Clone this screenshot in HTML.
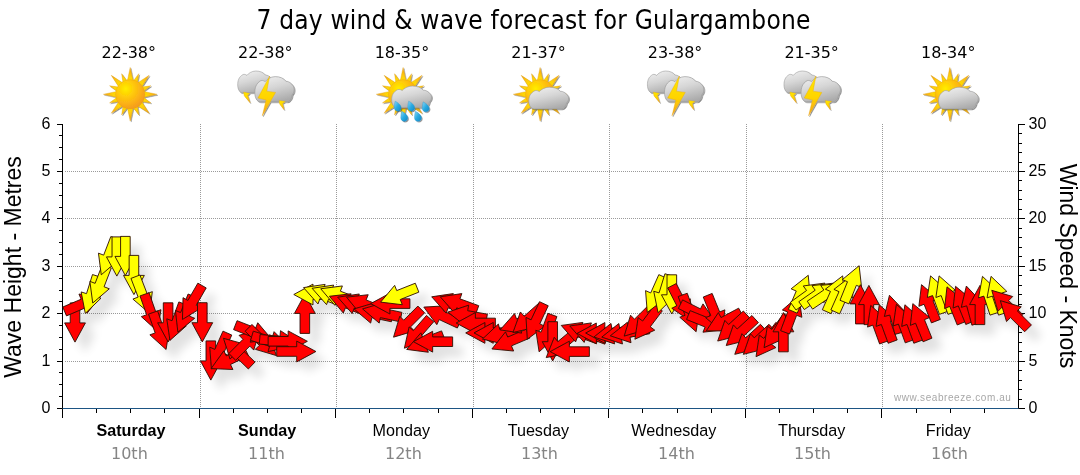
<!DOCTYPE html>
<html><head><meta charset="utf-8"><title>7 day wind &amp; wave forecast for Gulargambone</title>
<style>
html,body{margin:0;padding:0;background:#fff}
#c{position:relative;width:1080px;height:475px;overflow:hidden;background:#fff;font-family:"Liberation Sans",sans-serif;color:#000}
#c div{position:absolute;white-space:nowrap;line-height:1}
.title{left:0;width:1080px;top:7.2px;text-align:center;font:26px "DejaVu Sans",sans-serif;letter-spacing:.22px;text-indent:-14.4px;transform:scaleX(.9);transform-origin:540px 50%}
.tmp{width:120px;text-align:center;top:45px;font:16px "DejaVu Sans",sans-serif}
.day{width:136px;text-align:center;top:422.1px;font-size:16.15px}
.day.b{font-weight:bold}
.dt{width:136px;text-align:center;top:445.6px;font:16px "DejaVu Sans",sans-serif;color:#858585}
.yl{width:40px;text-align:right;font-size:16px;left:10.5px}
.yr{font-size:16px;left:1028.5px}
.axl{font-size:23px;left:13px;top:266.5px;transform:translate(-50%,-50%) rotate(-90deg)}
.axr{font-size:23px;left:1067px;top:266px;transform:translate(-50%,-50%) rotate(90deg)}
.wm{font-size:10px;color:#a8a8a8;right:68.5px;top:392.8px;letter-spacing:.57px}
</style></head><body><div id="c">
<svg width="1080" height="475" viewBox="0 0 1080 475" style="position:absolute;left:0;top:0">
<defs>
<filter id="sh" x="-5%" y="-20%" width="110%" height="150%"><feGaussianBlur in="SourceAlpha" stdDeviation="5"/><feOffset dx="10" dy="10"/><feComponentTransfer><feFuncA type="linear" slope="0.12"/></feComponentTransfer><feMerge><feMergeNode/><feMergeNode in="SourceGraphic"/></feMerge></filter>
</defs>

<g stroke="#9a9a9a" stroke-width="1" stroke-dasharray="1 1" shape-rendering="crispEdges" fill="none"><line x1="65" y1="361.5" x2="1018.5" y2="361.5"/><line x1="65" y1="313.5" x2="1018.5" y2="313.5"/><line x1="65" y1="266.5" x2="1018.5" y2="266.5"/><line x1="65" y1="218.5" x2="1018.5" y2="218.5"/><line x1="65" y1="171.5" x2="1018.5" y2="171.5"/><line x1="200.5" y1="124" x2="200.5" y2="408.5"/><line x1="336.5" y1="124" x2="336.5" y2="408.5"/><line x1="473.5" y1="124" x2="473.5" y2="408.5"/><line x1="609.5" y1="124" x2="609.5" y2="408.5"/><line x1="746.5" y1="124" x2="746.5" y2="408.5"/><line x1="882.5" y1="124" x2="882.5" y2="408.5"/></g>
<g stroke="#000" stroke-width="1" fill="none" shape-rendering="crispEdges"><line x1="62.5" y1="123.6" x2="62.5" y2="417.5"/><line x1="56.5" y1="408.5" x2="62.5" y2="408.5"/><line x1="59" y1="396.65" x2="62.5" y2="396.65"/><line x1="59" y1="384.8" x2="62.5" y2="384.8"/><line x1="59" y1="372.95" x2="62.5" y2="372.95"/><line x1="56.5" y1="361.1" x2="62.5" y2="361.1"/><line x1="59" y1="349.25" x2="62.5" y2="349.25"/><line x1="59" y1="337.4" x2="62.5" y2="337.4"/><line x1="59" y1="325.55" x2="62.5" y2="325.55"/><line x1="56.5" y1="313.7" x2="62.5" y2="313.7"/><line x1="59" y1="301.85" x2="62.5" y2="301.85"/><line x1="59" y1="290" x2="62.5" y2="290"/><line x1="59" y1="278.15" x2="62.5" y2="278.15"/><line x1="56.5" y1="266.3" x2="62.5" y2="266.3"/><line x1="59" y1="254.45" x2="62.5" y2="254.45"/><line x1="59" y1="242.6" x2="62.5" y2="242.6"/><line x1="59" y1="230.75" x2="62.5" y2="230.75"/><line x1="56.5" y1="218.9" x2="62.5" y2="218.9"/><line x1="59" y1="207.05" x2="62.5" y2="207.05"/><line x1="59" y1="195.2" x2="62.5" y2="195.2"/><line x1="59" y1="183.35" x2="62.5" y2="183.35"/><line x1="56.5" y1="171.5" x2="62.5" y2="171.5"/><line x1="59" y1="159.65" x2="62.5" y2="159.65"/><line x1="59" y1="147.8" x2="62.5" y2="147.8"/><line x1="59" y1="135.95" x2="62.5" y2="135.95"/><line x1="56.5" y1="124.1" x2="62.5" y2="124.1"/><line x1="1018.5" y1="123.6" x2="1018.5" y2="409"/><line x1="1018.5" y1="408.5" x2="1024.5" y2="408.5"/><line x1="1018.5" y1="399.02" x2="1022" y2="399.02"/><line x1="1018.5" y1="389.54" x2="1022" y2="389.54"/><line x1="1018.5" y1="380.06" x2="1022" y2="380.06"/><line x1="1018.5" y1="370.58" x2="1022" y2="370.58"/><line x1="1018.5" y1="361.1" x2="1024.5" y2="361.1"/><line x1="1018.5" y1="351.62" x2="1022" y2="351.62"/><line x1="1018.5" y1="342.14" x2="1022" y2="342.14"/><line x1="1018.5" y1="332.66" x2="1022" y2="332.66"/><line x1="1018.5" y1="323.18" x2="1022" y2="323.18"/><line x1="1018.5" y1="313.7" x2="1024.5" y2="313.7"/><line x1="1018.5" y1="304.22" x2="1022" y2="304.22"/><line x1="1018.5" y1="294.74" x2="1022" y2="294.74"/><line x1="1018.5" y1="285.26" x2="1022" y2="285.26"/><line x1="1018.5" y1="275.78" x2="1022" y2="275.78"/><line x1="1018.5" y1="266.3" x2="1024.5" y2="266.3"/><line x1="1018.5" y1="256.82" x2="1022" y2="256.82"/><line x1="1018.5" y1="247.34" x2="1022" y2="247.34"/><line x1="1018.5" y1="237.86" x2="1022" y2="237.86"/><line x1="1018.5" y1="228.38" x2="1022" y2="228.38"/><line x1="1018.5" y1="218.9" x2="1024.5" y2="218.9"/><line x1="1018.5" y1="209.42" x2="1022" y2="209.42"/><line x1="1018.5" y1="199.94" x2="1022" y2="199.94"/><line x1="1018.5" y1="190.46" x2="1022" y2="190.46"/><line x1="1018.5" y1="180.98" x2="1022" y2="180.98"/><line x1="1018.5" y1="171.5" x2="1024.5" y2="171.5"/><line x1="1018.5" y1="162.02" x2="1022" y2="162.02"/><line x1="1018.5" y1="152.54" x2="1022" y2="152.54"/><line x1="1018.5" y1="143.06" x2="1022" y2="143.06"/><line x1="1018.5" y1="133.58" x2="1022" y2="133.58"/><line x1="1018.5" y1="124.1" x2="1024.5" y2="124.1"/><line x1="96.5" y1="408.5" x2="96.5" y2="413"/><line x1="130.5" y1="408.5" x2="130.5" y2="413"/><line x1="164.5" y1="408.5" x2="164.5" y2="413"/><line x1="199.5" y1="408.5" x2="199.5" y2="417.5"/><line x1="233.5" y1="408.5" x2="233.5" y2="413"/><line x1="267.5" y1="408.5" x2="267.5" y2="413"/><line x1="301.5" y1="408.5" x2="301.5" y2="413"/><line x1="335.5" y1="408.5" x2="335.5" y2="417.5"/><line x1="369.5" y1="408.5" x2="369.5" y2="413"/><line x1="403.5" y1="408.5" x2="403.5" y2="413"/><line x1="438.5" y1="408.5" x2="438.5" y2="413"/><line x1="472.5" y1="408.5" x2="472.5" y2="417.5"/><line x1="506.5" y1="408.5" x2="506.5" y2="413"/><line x1="540.5" y1="408.5" x2="540.5" y2="413"/><line x1="574.5" y1="408.5" x2="574.5" y2="413"/><line x1="608.5" y1="408.5" x2="608.5" y2="417.5"/><line x1="642.5" y1="408.5" x2="642.5" y2="413"/><line x1="677.5" y1="408.5" x2="677.5" y2="413"/><line x1="711.5" y1="408.5" x2="711.5" y2="413"/><line x1="745.5" y1="408.5" x2="745.5" y2="417.5"/><line x1="779.5" y1="408.5" x2="779.5" y2="413"/><line x1="813.5" y1="408.5" x2="813.5" y2="413"/><line x1="847.5" y1="408.5" x2="847.5" y2="413"/><line x1="881.5" y1="408.5" x2="881.5" y2="417.5"/><line x1="916.5" y1="408.5" x2="916.5" y2="413"/><line x1="950.5" y1="408.5" x2="950.5" y2="413"/><line x1="984.5" y1="408.5" x2="984.5" y2="413"/></g>
<line x1="62.5" y1="408.5" x2="1018.5" y2="408.5" stroke="#1d5584" stroke-width="1.2"/>
<g filter="url(#sh)" stroke="#2a0c00" stroke-width="0.9" stroke-linejoin="miter"><path d="M79.81 302.9 L79.81 322.9 L85.41 322.9 L75.01 342.1 L64.61 322.9 L70.21 322.9 L70.21 302.9Z" fill="#ff0000"/>
<path d="M62.73 307.04 L81.14 299.23 L78.96 294.07 L100.69 296.14 L87.08 313.22 L84.9 308.06 L66.49 315.88Z" fill="#ff0000"/>
<path d="M101.67 277.45 L95.66 296.52 L101 298.21 L85.3 313.39 L81.16 291.95 L86.5 293.64 L92.51 274.56Z" fill="#ffff00"/>
<path d="M111.25 268.12 L104.08 286.79 L109.31 288.8 L92.72 303 L89.89 281.35 L95.12 283.35 L102.29 264.68Z" fill="#ffff00"/>
<path d="M119.8 239.92 L112.63 258.59 L117.86 260.6 L101.27 274.8 L98.44 253.15 L103.67 255.15 L110.83 236.48Z" fill="#ffff00"/>
<path d="M121.64 236.9 L121.64 256.9 L127.24 256.9 L116.84 276.1 L106.44 256.9 L112.04 256.9 L112.04 236.9Z" fill="#ffff00"/>
<path d="M130.18 236.4 L130.18 256.4 L135.78 256.4 L125.38 275.6 L114.98 256.4 L120.58 256.4 L120.58 236.4Z" fill="#ffff00"/>
<path d="M138.73 255.4 L138.73 275.4 L144.33 275.4 L133.93 294.6 L123.53 275.4 L129.13 275.4 L129.13 255.4Z" fill="#ffff00"/>
<path d="M139.93 274.98 L147.1 293.65 L152.33 291.65 L149.5 313.3 L132.91 299.1 L138.14 297.09 L130.97 278.42Z" fill="#ffff00"/>
<path d="M149.04 292.72 L155.68 311.58 L160.96 309.72 L157.53 331.29 L141.34 316.63 L146.63 314.77 L139.98 295.91Z" fill="#ff0000"/>
<path d="M157.58 310.92 L164.23 329.78 L169.51 327.92 L166.08 349.49 L149.89 334.83 L155.17 332.97 L148.53 314.11Z" fill="#ff0000"/>
<path d="M172.91 302.8 L172.91 322.8 L178.51 322.8 L168.11 342 L157.71 322.8 L163.31 322.8 L163.31 302.8Z" fill="#ff0000"/>
<path d="M187.87 305.22 L181.03 324.02 L186.29 325.93 L169.95 340.42 L166.75 318.82 L172.01 320.73 L178.85 301.94Z" fill="#ff0000"/>
<path d="M197 297.63 L189.5 316.17 L194.7 318.27 L177.86 332.17 L175.41 310.47 L180.6 312.57 L188.1 294.03Z" fill="#ff0000"/>
<path d="M206.21 287.93 L196.21 305.25 L201.06 308.05 L182.45 319.47 L183.04 297.65 L187.89 300.45 L197.89 283.13Z" fill="#ff0000"/>
<path d="M207.1 302.7 L207.1 322.7 L212.7 322.7 L202.3 341.9 L191.9 322.7 L197.5 322.7 L197.5 302.7Z" fill="#ff0000"/>
<path d="M215.64 340.9 L215.64 360.9 L221.24 360.9 L210.84 380.1 L200.44 360.9 L206.04 360.9 L206.04 340.9Z" fill="#ff0000"/>
<path d="M231.75 335.05 L223.61 353.32 L228.73 355.6 L211.42 368.91 L209.72 347.14 L214.84 349.41 L222.98 331.14Z" fill="#ff0000"/>
<path d="M248.45 355.72 L230.48 364.49 L232.93 369.52 L211.12 368.59 L223.82 350.83 L226.27 355.86 L244.25 347.09Z" fill="#ff0000"/>
<path d="M248.34 368.97 L233.96 355.07 L230.07 359.1 L223.48 338.28 L244.52 344.14 L240.63 348.17 L255.01 362.06Z" fill="#ff0000"/>
<path d="M228.87 353.47 L243.01 339.32 L239.05 335.36 L259.99 329.14 L253.76 350.07 L249.8 346.11 L235.66 360.25Z" fill="#ff0000"/>
<path d="M237.07 320.68 L255.7 327.98 L257.74 322.76 L271.82 339.45 L250.15 342.13 L252.19 336.92 L233.57 329.62Z" fill="#ff0000"/>
<path d="M251.95 324.45 L266.09 338.59 L270.05 334.63 L276.28 355.56 L255.35 349.34 L259.31 345.38 L245.16 331.23Z" fill="#ff0000"/>
<path d="M253.32 331.18 L272.45 337.03 L274.09 331.67 L289.41 347.23 L268.01 351.56 L269.64 346.21 L250.52 340.36Z" fill="#ff0000"/>
<path d="M260.1 334.51 L280.03 336.25 L280.51 330.67 L298.74 342.71 L278.7 351.4 L279.19 345.82 L259.27 344.07Z" fill="#ff0000"/>
<path d="M268.16 336.5 L288.16 336.5 L288.16 330.9 L307.36 341.3 L288.16 351.7 L288.16 346.1 L268.16 346.1Z" fill="#ff0000"/>
<path d="M276.7 346.7 L296.7 346.7 L296.7 341.1 L315.9 351.5 L296.7 361.9 L296.7 356.3 L276.7 356.3Z" fill="#ff0000"/>
<path d="M300.05 333.4 L300.05 313.4 L294.45 313.4 L304.85 294.2 L315.25 313.4 L309.65 313.4 L309.65 333.4Z" fill="#ff0000"/>
<path d="M332.99 299.3 L312.99 299.3 L312.99 304.9 L293.79 294.5 L312.99 284.1 L312.99 289.7 L332.99 289.7Z" fill="#ffff00"/>
<path d="M338.72 305.51 L319.92 298.67 L318.01 303.94 L303.52 287.6 L325.12 284.39 L323.21 289.65 L342 296.49Z" fill="#ffff00"/>
<path d="M347.26 306.21 L328.47 299.37 L326.55 304.64 L312.07 288.3 L333.67 285.09 L331.75 290.35 L350.55 297.19Z" fill="#ffff00"/>
<path d="M355.61 307.31 L336.94 300.14 L334.93 305.37 L320.73 288.78 L342.39 285.95 L340.38 291.18 L359.05 298.34Z" fill="#ffff00"/>
<path d="M363.95 315.39 L345.41 307.9 L343.31 313.09 L329.41 296.26 L351.1 293.81 L349.01 299 L367.55 306.49Z" fill="#ff0000"/>
<path d="M372.9 315.11 L354.11 308.27 L352.19 313.54 L337.71 297.2 L359.31 293.99 L357.39 299.25 L376.18 306.09Z" fill="#ff0000"/>
<path d="M381.04 316.29 L362.5 308.8 L360.4 313.99 L346.5 297.16 L368.2 294.71 L366.1 299.9 L384.64 307.39Z" fill="#ff0000"/>
<path d="M391.39 321.77 L371.83 317.61 L370.66 323.09 L354.04 308.92 L374.99 302.74 L373.82 308.22 L393.39 312.38Z" fill="#ff0000"/>
<path d="M399.94 321.77 L380.37 317.61 L379.21 323.09 L362.59 308.92 L383.53 302.74 L382.37 308.22 L401.93 312.38Z" fill="#ff0000"/>
<path d="M409.91 308.4 L389.91 308.4 L389.91 314 L370.71 303.6 L389.91 293.2 L389.91 298.8 L409.91 298.8Z" fill="#ff0000"/>
<path d="M418.84 292.15 L400.25 299.51 L402.31 304.72 L380.63 302.12 L394.65 285.38 L396.72 290.58 L415.31 283.22Z" fill="#ffff00"/>
<path d="M424.65 312.83 L410.51 326.98 L414.47 330.94 L393.54 337.16 L399.76 316.23 L403.72 320.19 L417.87 306.05Z" fill="#ff0000"/>
<path d="M433.73 321.76 L420.61 336.85 L424.83 340.52 L404.39 348.19 L409.13 326.88 L413.36 330.55 L426.48 315.46Z" fill="#ff0000"/>
<path d="M445.01 339.86 L426.34 347.02 L428.35 352.25 L406.69 349.42 L420.89 332.83 L422.9 338.06 L441.57 330.89Z" fill="#ff0000"/>
<path d="M452.64 346.5 L432.64 346.5 L432.64 352.1 L413.44 341.7 L432.64 331.3 L432.64 336.9 L452.64 336.9Z" fill="#ff0000"/>
<path d="M457.32 328.03 L439.19 319.58 L436.83 324.66 L423.82 307.12 L445.62 305.81 L443.25 310.88 L461.38 319.33Z" fill="#ff0000"/>
<path d="M466.91 314.71 L448.11 307.87 L446.2 313.14 L431.71 296.8 L453.31 293.59 L451.4 298.85 L470.19 305.69Z" fill="#ff0000"/>
<path d="M475.45 314.71 L456.66 307.87 L454.74 313.14 L440.26 296.8 L461.86 293.59 L459.94 298.85 L478.74 305.69Z" fill="#ff0000"/>
<path d="M485.69 323.63 L465.99 320.16 L465.02 325.67 L447.92 312.1 L468.63 305.19 L467.66 310.7 L487.36 314.18Z" fill="#ff0000"/>
<path d="M495.37 327.8 L475.37 327.8 L475.37 333.4 L456.17 323 L475.37 312.6 L475.37 318.2 L495.37 318.2Z" fill="#ff0000"/>
<path d="M504.91 337.7 L484.91 337.7 L484.91 343.3 L465.71 332.9 L484.91 322.5 L484.91 328.1 L504.91 328.1Z" fill="#ff0000"/>
<path d="M513.26 337.7 L493.26 337.7 L493.26 343.3 L474.06 332.9 L493.26 322.5 L493.26 328.1 L513.26 328.1Z" fill="#ff0000"/>
<path d="M521.58 333.56 L502.26 338.74 L503.71 344.15 L482.47 339.07 L498.33 324.06 L499.78 329.47 L519.1 324.29Z" fill="#ff0000"/>
<path d="M529.87 338.06 L511.46 345.87 L513.65 351.03 L491.91 348.96 L505.52 331.88 L507.71 337.04 L526.12 329.22Z" fill="#ff0000"/>
<path d="M538.56 321.01 L519.76 327.85 L521.68 333.11 L500.08 329.9 L514.57 313.56 L516.48 318.83 L535.27 311.99Z" fill="#ff0000"/>
<path d="M545.5 310.11 L530.52 323.36 L534.24 327.55 L512.96 332.49 L520.45 311.98 L524.16 316.17 L539.14 302.92Z" fill="#ff0000"/>
<path d="M548.22 305.76 L539.77 323.89 L544.85 326.26 L527.31 339.26 L526 317.47 L531.07 319.83 L539.52 301.71Z" fill="#ff0000"/>
<path d="M556.89 316.58 L550.12 335.4 L555.39 337.3 L539.1 351.84 L535.82 330.25 L541.08 332.15 L547.86 313.33Z" fill="#ff0000"/>
<path d="M557.48 321.7 L557.48 341.7 L563.08 341.7 L552.68 360.9 L542.28 341.7 L547.88 341.7 L547.88 321.7Z" fill="#ff0000"/>
<path d="M579.33 336.08 L564.01 348.93 L567.61 353.22 L546.21 357.6 L554.24 337.29 L557.84 341.58 L573.16 328.72Z" fill="#ff0000"/>
<path d="M589.37 356.4 L569.37 356.4 L569.37 362 L550.17 351.6 L569.37 341.2 L569.37 346.8 L589.37 346.8Z" fill="#ff0000"/>
<path d="M596.3 343.66 L577.56 336.66 L575.6 341.9 L561.26 325.44 L582.89 322.42 L580.93 327.66 L599.66 334.67Z" fill="#ff0000"/>
<path d="M604.84 344.16 L586.11 337.16 L584.15 342.4 L569.81 325.94 L591.43 322.92 L589.47 328.16 L608.21 335.17Z" fill="#ff0000"/>
<path d="M616.31 338.2 L596.31 338.2 L596.31 343.8 L577.11 333.4 L596.31 323 L596.31 328.6 L616.31 328.6Z" fill="#ff0000"/>
<path d="M624.86 337.8 L604.86 337.8 L604.86 343.4 L585.66 333 L604.86 322.6 L604.86 328.2 L624.86 328.2Z" fill="#ff0000"/>
<path d="M633.34 334.92 L613.64 338.4 L614.62 343.91 L593.9 337 L611 323.43 L611.98 328.94 L631.67 325.47Z" fill="#ff0000"/>
<path d="M641.19 335.02 L621.49 338.5 L622.46 344.01 L601.75 337.1 L618.85 323.53 L619.82 329.04 L639.52 325.57Z" fill="#ff0000"/>
<path d="M649.73 333.72 L630.04 337.2 L631.01 342.71 L610.29 335.8 L627.4 322.23 L628.37 327.74 L648.06 324.27Z" fill="#ff0000"/>
<path d="M655.45 311.93 L641.23 325.99 L645.17 329.97 L624.21 336.09 L630.54 315.19 L634.48 319.17 L648.7 305.1Z" fill="#ff0000"/>
<path d="M662.32 310.84 L650.28 326.81 L654.75 330.18 L634.89 339.25 L638.14 317.66 L642.61 321.03 L654.65 305.06Z" fill="#ff0000"/>
<path d="M667.59 278.55 L659.46 296.82 L664.57 299.1 L647.26 312.41 L645.57 290.64 L650.69 292.91 L658.82 274.64Z" fill="#ffff00"/>
<path d="M674.1 276.56 L668.25 295.69 L673.61 297.32 L658.05 312.64 L653.72 291.24 L659.07 292.88 L664.92 273.75Z" fill="#ffff00"/>
<path d="M676.63 274.8 L676.63 294.8 L682.23 294.8 L671.83 314 L661.43 294.8 L667.03 294.8 L667.03 274.8Z" fill="#ffff00"/>
<path d="M676.25 283.56 L685.33 301.38 L690.32 298.83 L689.77 320.66 L671.79 308.28 L676.78 305.74 L667.7 287.92Z" fill="#ff0000"/>
<path d="M687.22 293.24 L694.07 312.03 L699.33 310.12 L696.12 331.72 L679.78 317.23 L685.04 315.32 L678.2 296.52Z" fill="#ff0000"/>
<path d="M682.61 299.91 L700.48 308.89 L702.99 303.89 L715.47 321.81 L693.65 322.47 L696.16 317.47 L678.3 308.48Z" fill="#ff0000"/>
<path d="M690.14 310.61 L708.68 318.1 L710.78 312.91 L724.68 329.74 L702.98 332.19 L705.08 327 L686.54 319.51Z" fill="#ff0000"/>
<path d="M712.16 293.43 L719.66 311.97 L724.85 309.87 L722.4 331.57 L705.56 317.67 L710.76 315.57 L703.26 297.03Z" fill="#ff0000"/>
<path d="M743.16 316.64 L725.5 326.03 L728.13 330.97 L706.3 330.8 L718.37 312.61 L721 317.55 L738.65 308.16Z" fill="#ff0000"/>
<path d="M749.84 318.1 L735.1 331.61 L738.88 335.74 L717.7 341.04 L724.83 320.4 L728.61 324.53 L743.36 311.02Z" fill="#ff0000"/>
<path d="M758.39 322.6 L743.64 336.11 L747.43 340.24 L726.24 345.54 L733.37 324.9 L737.16 329.03 L751.9 315.52Z" fill="#ff0000"/>
<path d="M766.93 331.4 L752.19 344.91 L755.97 349.04 L734.79 354.34 L741.92 333.7 L745.7 337.83 L760.45 324.32Z" fill="#ff0000"/>
<path d="M775.48 331.4 L760.73 344.91 L764.52 349.04 L743.34 354.34 L750.46 333.7 L754.25 337.83 L768.99 324.32Z" fill="#ff0000"/>
<path d="M783.46 328.24 L771.42 344.21 L775.9 347.58 L756.04 356.65 L759.29 335.06 L763.76 338.43 L775.79 322.46Z" fill="#ff0000"/>
<path d="M791.51 319.24 L779.47 335.21 L783.94 338.58 L764.08 347.65 L767.33 326.06 L771.8 329.43 L783.84 313.46Z" fill="#ff0000"/>
<path d="M778.62 351.8 L778.62 331.8 L773.02 331.8 L783.42 312.6 L793.82 331.8 L788.22 331.8 L788.22 351.8Z" fill="#ff0000"/>
<path d="M780.58 330.66 L787.62 311.94 L782.38 309.97 L798.87 295.65 L801.85 317.28 L796.6 315.31 L789.57 334.04Z" fill="#ff0000"/>
<path d="M788.38 309.42 L796.26 291.04 L791.11 288.84 L808.24 275.28 L810.23 297.03 L805.09 294.82 L797.21 313.21Z" fill="#ffff00"/>
<path d="M790.38 302.24 L806.56 290.48 L803.27 285.95 L824.92 283.08 L815.5 302.78 L812.21 298.25 L796.03 310Z" fill="#ffff00"/>
<path d="M798.8 301.71 L815.18 290.24 L811.97 285.65 L833.66 283.16 L823.9 302.69 L820.69 298.1 L804.31 309.57Z" fill="#ffff00"/>
<path d="M807.22 301.18 L823.8 290 L820.67 285.35 L842.4 283.24 L832.3 302.6 L829.17 297.96 L812.59 309.14Z" fill="#ffff00"/>
<path d="M822.34 309.75 L830.48 291.48 L825.36 289.2 L842.67 275.89 L844.36 297.66 L839.25 295.39 L831.11 313.66Z" fill="#ffff00"/>
<path d="M830.89 309.95 L839.02 291.68 L833.91 289.4 L851.22 276.09 L852.91 297.86 L847.79 295.59 L839.66 313.86Z" fill="#ffff00"/>
<path d="M840 300.27 L847.49 281.73 L842.3 279.63 L859.13 265.73 L861.58 287.43 L856.39 285.33 L848.9 303.87Z" fill="#ffff00"/>
<path d="M855.54 323.9 L855.54 303.9 L849.94 303.9 L860.34 284.7 L870.74 303.9 L865.14 303.9 L865.14 323.9Z" fill="#ff0000"/>
<path d="M864.08 324.6 L864.08 304.6 L858.48 304.6 L868.88 285.4 L879.28 304.6 L873.68 304.6 L873.68 324.6Z" fill="#ff0000"/>
<path d="M879.62 343.96 L872.78 325.17 L867.52 327.08 L870.73 305.48 L887.07 319.97 L881.8 321.88 L888.64 340.68Z" fill="#ff0000"/>
<path d="M888.17 343.26 L881.33 324.47 L876.07 326.38 L879.27 304.78 L895.61 319.27 L890.35 321.18 L897.19 339.98Z" fill="#ff0000"/>
<path d="M894.96 334.37 L889.78 315.06 L884.37 316.51 L889.45 295.27 L904.46 311.12 L899.05 312.57 L904.23 331.89Z" fill="#ff0000"/>
<path d="M905.26 342.86 L898.42 324.07 L893.16 325.98 L896.36 304.38 L912.7 318.87 L907.44 320.78 L914.28 339.58Z" fill="#ff0000"/>
<path d="M913.81 343.26 L906.97 324.47 L901.7 326.38 L904.91 304.78 L921.25 319.27 L915.99 321.18 L922.83 339.98Z" fill="#ff0000"/>
<path d="M923.05 341.77 L915.56 323.23 L910.37 325.33 L912.82 303.63 L929.65 317.53 L924.46 319.63 L931.95 338.17Z" fill="#ff0000"/>
<path d="M931.42 322.9 L924.09 304.29 L918.88 306.34 L921.52 284.66 L938.24 298.72 L933.03 300.77 L940.36 319.38Z" fill="#ff0000"/>
<path d="M939.45 314.36 L932.6 295.57 L927.34 297.48 L930.55 275.88 L946.89 290.37 L941.63 292.28 L948.47 311.08Z" fill="#ffff00"/>
<path d="M947.99 314.36 L941.15 295.57 L935.89 297.48 L939.09 275.88 L955.43 290.37 L950.17 292.28 L957.01 311.08Z" fill="#ffff00"/>
<path d="M957.24 324.97 L949.74 306.43 L944.55 308.53 L947 286.83 L963.84 300.73 L958.64 302.83 L966.14 321.37Z" fill="#ff0000"/>
<path d="M965.78 324.47 L958.29 305.93 L953.1 308.03 L955.55 286.33 L972.38 300.23 L967.19 302.33 L974.68 320.87Z" fill="#ff0000"/>
<path d="M971.87 325.17 L966.7 305.86 L961.29 307.31 L966.36 286.07 L981.38 301.92 L975.97 303.37 L981.15 322.69Z" fill="#ff0000"/>
<path d="M975.18 324.6 L975.18 304.6 L969.58 304.6 L979.98 285.4 L990.38 304.6 L984.78 304.6 L984.78 324.6Z" fill="#ff0000"/>
<path d="M990.02 315.12 L983.84 296.1 L978.51 297.83 L982.47 276.36 L998.3 291.41 L992.97 293.14 L999.15 312.16Z" fill="#ffff00"/>
<path d="M998.57 315.12 L992.39 296.1 L987.06 297.83 L991.02 276.36 L1006.84 291.41 L1001.52 293.14 L1007.7 312.16Z" fill="#ffff00"/>
<path d="M1016.09 321.45 L1001.94 307.31 L997.98 311.27 L991.76 290.34 L1012.69 296.56 L1008.73 300.52 L1022.87 314.67Z" fill="#ff0000"/>
<path d="M1024.63 331.75 L1010.49 317.61 L1006.53 321.57 L1000.31 300.64 L1021.24 306.86 L1017.28 310.82 L1031.42 324.97Z" fill="#ff0000"/></g>
<defs>
<radialGradient id="gd" gradientUnits="userSpaceOnUse" cx="-4.5" cy="-5.5" r="20"><stop offset="0" stop-color="#ffee00"/><stop offset="0.4" stop-color="#ffcb08"/><stop offset="0.8" stop-color="#fbad18"/><stop offset="1" stop-color="#f59e1b"/></radialGradient>
<radialGradient id="gr" gradientUnits="userSpaceOnUse" cx="0" cy="0" r="27"><stop offset="0.5" stop-color="#ffe100"/><stop offset="0.78" stop-color="#fdc010"/><stop offset="1" stop-color="#f5a01a"/></radialGradient>
<linearGradient id="gc" x1="0.2" y1="0" x2="0.6" y2="1"><stop offset="0" stop-color="#efefef"/><stop offset="0.45" stop-color="#d6d6d6"/><stop offset="1" stop-color="#ababab"/></linearGradient>
<linearGradient id="gb" x1="0" y1="0" x2="0" y2="1"><stop offset="0" stop-color="#ffe600"/><stop offset="0.55" stop-color="#ffd400"/><stop offset="1" stop-color="#f4a01c"/></linearGradient>
<linearGradient id="gw" x1="0" y1="0" x2="1" y2="1"><stop offset="0" stop-color="#8fd8f5"/><stop offset="0.5" stop-color="#29abe2"/><stop offset="1" stop-color="#1488c4"/></linearGradient>
<filter id="is" x="-20%" y="-20%" width="150%" height="150%"><feGaussianBlur in="SourceAlpha" stdDeviation="0.7"/><feOffset dx="0.8" dy="0.8"/><feComponentTransfer><feFuncA type="linear" slope="0.45"/></feComponentTransfer><feMerge><feMergeNode/><feMergeNode in="SourceGraphic"/></feMerge></filter>
<g id="sun" filter="url(#is)"><path d="M2.9 -13.2L0 -26.8L-2.9 -13.2ZM7.18 -11.32L8.53 -20.6L2.93 -13.08ZM11.38 -7.28L18.95 -18.95L7.28 -11.38ZM13.08 -2.93L20.6 -8.53L11.32 -7.18ZM13.2 2.9L26.8 0L13.2 -2.9ZM11.32 7.18L20.6 8.53L13.08 2.93ZM7.28 11.38L18.95 18.95L11.38 7.28ZM2.93 13.08L8.53 20.6L7.18 11.32ZM-2.9 13.2L0 26.8L2.9 13.2ZM-7.18 11.32L-8.53 20.6L-2.93 13.08ZM-11.38 7.28L-18.95 18.95L-7.28 11.38ZM-13.08 2.93L-20.6 8.53L-11.32 7.18ZM-13.2 -2.9L-26.8 0L-13.2 2.9ZM-11.32 -7.18L-20.6 -8.53L-13.08 -2.93ZM-7.28 -11.38L-18.95 -18.95L-11.38 -7.28ZM-2.93 -13.08L-8.53 -20.6L-7.18 -11.32Z" fill="url(#gr)" stroke="#d99a0a" stroke-width="0.35"/><circle r="14.7" fill="url(#gd)" stroke="#e29a10" stroke-width="0.3"/></g>
<path id="cloud" d="M5.4 21.7C2 21.7 0 18 0 13.9C0 10 1 6 6.1 3.5C8 3 9.5 3.8 10.5 4.4C12 2.5 16 0 20.6 0C25.5 0 29.5 1.5 31.4 4C34 4 37 5.5 38.9 8.2C40.2 10.5 40.2 13.5 37.7 15.8C37.5 18.5 35.5 21.7 32.6 21.7Z" fill="url(#gc)" stroke="#9a9a9a" stroke-width="0.6"/>
<path id="drop" d="M-2.2 -4.2C0.5 -3 3.2 -0.5 3.2 1.8C3.2 3.6 1.8 4.6 0.2 4.6C-1.6 4.6 -3 3.3 -3 1.5C-3 -0.5 -2.6 -2.5 -2.2 -4.2Z" fill="url(#gw)" stroke="#1b8fcf" stroke-width="0.3"/>
<g id="storm"><g filter="url(#is)"><use href="#cloud" transform="translate(237.7 71) scale(0.88 1)"/>
<path d="M243.6 92L249.6 93.4L247.6 95.2L250 102.8L244.2 95.8Z" fill="url(#gb)" stroke="#e0a010" stroke-width="0.3"/>
<use href="#cloud" transform="translate(254.8 76.6) scale(0.99 1.16)"/>
<path d="M279 100.4L285.4 101.4L282.6 103.4L284 109.8L279.6 104Z" fill="url(#gb)" stroke="#e0a010" stroke-width="0.3"/>
<path d="M269.7 76L257.9 98.1L266.1 100L262.3 115.8L275.6 92.4L266.8 91.2Z" fill="url(#gb)" stroke="#e8a812" stroke-width="0.4"/></g></g>
</defs>
<use href="#sun" transform="translate(130.2 94.3)"/>
<use href="#storm"/>
<use href="#sun" transform="translate(403.1 94.3)"/>
<g filter="url(#is)"><use href="#cloud" transform="translate(391.7 86.1)"/>
<use href="#drop" transform="translate(397.6 105.9) scale(1.12)"/>
<use href="#drop" transform="translate(411.1 105.9) scale(1.12)"/>
<use href="#drop" transform="translate(425.6 106.6) scale(1.12)"/>
<use href="#drop" transform="translate(404.1 116) scale(1.12)"/>
<use href="#drop" transform="translate(417.8 116) scale(1.12)"/>
</g>
<use href="#sun" transform="translate(540.1 94.3)"/>
<g filter="url(#is)"><use href="#cloud" transform="translate(528.8 87.2)"/></g>
<use href="#storm" transform="translate(409.71 0)"/>
<use href="#storm" transform="translate(546.29 0)"/>
<use href="#sun" transform="translate(949.81 94.3)"/>
<g filter="url(#is)"><use href="#cloud" transform="translate(938.51 87.2)"/></g>
</svg>
<div class="title">7 day wind &amp; wave forecast for Gulargambone</div>
<div class="tmp" style="left:68.79px">22-38°</div>
<div class="day b" style="left:63.05px">Saturday</div>
<div class="dt" style="left:61.4px">10th</div>
<div class="tmp" style="left:205.36px">22-38°</div>
<div class="day b" style="left:199.2px">Sunday</div>
<div class="dt" style="left:198.5px">11th</div>
<div class="tmp" style="left:341.93px">18-35°</div>
<div class="day" style="left:333.3px">Monday</div>
<div class="dt" style="left:335.4px">12th</div>
<div class="tmp" style="left:478.5px">21-37°</div>
<div class="day" style="left:470.3px">Tuesday</div>
<div class="dt" style="left:471.4px">13th</div>
<div class="tmp" style="left:615.07px">23-38°</div>
<div class="day" style="left:605.8px">Wednesday</div>
<div class="dt" style="left:608.5px">14th</div>
<div class="tmp" style="left:751.64px">21-35°</div>
<div class="day" style="left:743.7px">Thursday</div>
<div class="dt" style="left:744.5px">15th</div>
<div class="tmp" style="left:888.21px">18-34°</div>
<div class="day" style="left:880.3px">Friday</div>
<div class="dt" style="left:881.4px">16th</div>
<div class="yl" style="top:400px">0</div>
<div class="yr" style="top:400px">0</div>
<div class="yl" style="top:352.6px">1</div>
<div class="yr" style="top:352.6px">5</div>
<div class="yl" style="top:305.2px">2</div>
<div class="yr" style="top:305.2px">10</div>
<div class="yl" style="top:257.8px">3</div>
<div class="yr" style="top:257.8px">15</div>
<div class="yl" style="top:210.4px">4</div>
<div class="yr" style="top:210.4px">20</div>
<div class="yl" style="top:163px">5</div>
<div class="yr" style="top:163px">25</div>
<div class="yl" style="top:115.6px">6</div>
<div class="yr" style="top:115.6px">30</div>
<div class="axl">Wave Height - Metres</div>
<div class="axr">Wind Speed - Knots</div>
<div class="wm">www.seabreeze.com.au</div>
</div></body></html>
